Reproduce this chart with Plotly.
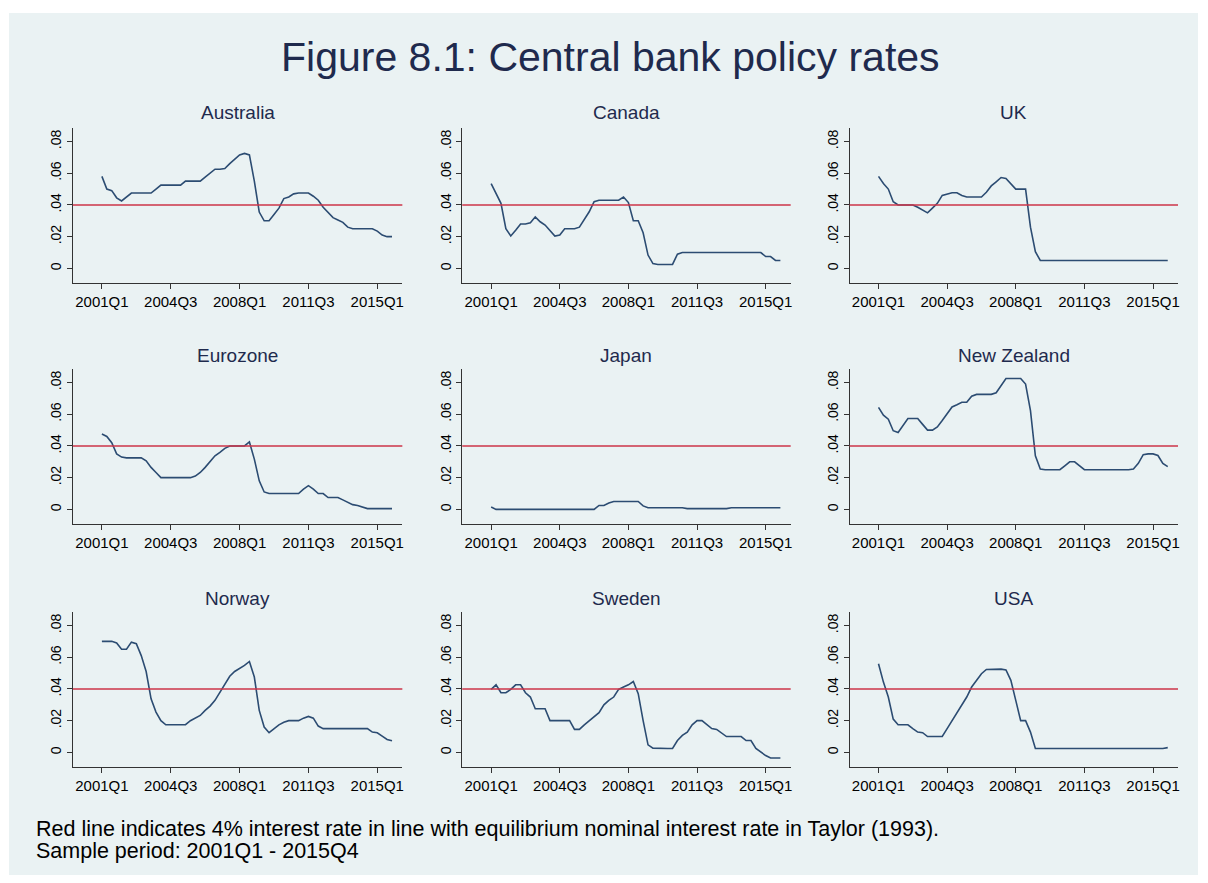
import plotly.graph_objects as go

# ---------------- data ----------------
years = list(range(2001, 2016))
quarters = [f"{y}Q{q}" for y in years for q in range(1, 5)]  # 2001Q1 .. 2015Q4 (60)

tick_labels = ["2001Q1", "2004Q3", "2008Q1", "2011Q3", "2015Q1"]
y_tick_vals = [0, 0.02, 0.04, 0.06, 0.08]
y_tick_text = ["0", ".02", ".04", ".06", ".08"]
equilibrium_rate = 0.04

countries = ["Australia", "Canada", "UK", "Eurozone", "Japan", "New Zealand",
             "Norway", "Sweden", "USA"]

australia = [.058, .050, .049, .0445, .0425, .045, .0475, .0475, .0475, .0475,
             .0475, .050, .0525, .0525, .0525, .0525, .0525, .055, .055, .055,
             .055, .0575, .060, .0625, .0625, .063, .066, .069, .0715, .0725,
             .0715, .055, .0355, .030, .030, .034, .038, .044, .045, .047,
             .0475, .0475, .0475, .0455, .043, .0385, .035, .032, .0305, .029,
             .026, .025, .025, .025, .025, .025, .0235, .021, .020, .020]

canada = [.0535, .0477, .041, .025, .0204, .024, .028, .028, .0288, .0325,
          .0294, .0273, .024, .0204, .021, .025, .025, .025, .026, .0305,
          .0357, .042, .043, .043, .043, .043, .043, .045, .0415, .030,
          .030, .0225, .0084, .003, .0025, .0025, .0025, .0025, .009, .010,
          .010, .010, .010, .010, .010, .010, .010, .010, .010, .010,
          .010, .010, .010, .010, .010, .010, .0075, .0075, .005, .005]

uk = [.058, .0535, .050, .042, .040, .040, .040, .040, .0385, .037,
      .035, .038, .041, .046, .047, .0477, .0477, .046, .045, .045,
      .045, .045, .048, .052, .0546, .0573, .0567, .0535, .050, .050,
      .050, .026, .0105, .005, .005, .005, .005, .005, .005, .005,
      .005, .005, .005, .005, .005, .005, .005, .005, .005, .005,
      .005, .005, .005, .005, .005, .005, .005, .005, .005, .005]

eurozone = [.0475, .046, .042, .035, .033, .0325, .0325, .0325, .0325, .0306,
            .0265, .0233, .020, .020, .020, .020, .020, .020, .020, .021,
            .0233, .0265, .030, .0338, .036, .0385, .040, .040, .040, .040,
            .0425, .0317, .018, .011, .010, .010, .010, .010, .010, .010,
            .010, .0128, .015, .0128, .010, .010, .0075, .0075, .0075, .006,
            .0045, .003, .0025, .0017, .0005, .0005, .0005, .0005, .0005, .0005]

japan = [.0015, 0, 0, 0, 0, 0, 0, 0, 0, 0,
         0, 0, 0, 0, 0, 0, 0, 0, 0, 0,
         0, 0, .0025, .0025, .004, .005, .005, .005, .005, .005,
         .005, .0022, .001, .001, .001, .001, .001, .001, .001, .001,
         .0005, .0005, .0005, .0005, .0005, .0005, .0005, .0005, .0005, .001,
         .001, .001, .001, .001, .001, .001, .001, .001, .001, .001]

new_zealand = [.0643, .0594, .0569, .0496, .0485, .053, .0573, .0573, .0573, .0536,
               .050, .050, .052, .056, .0604, .0646, .066, .0675, .0675, .0714,
               .0725, .0725, .0725, .0725, .0735, .0777, .0825, .0825, .0825, .0825,
               .079, .0622, .0338, .0254, .025, .025, .025, .025, .0275, .030,
               .030, .0275, .025, .025, .025, .025, .025, .025, .025, .025,
               .025, .025, .0255, .029, .0345, .035, .035, .034, .029, .027]

norway = [.070, .070, .070, .069, .065, .065, .0695, .0685, .061, .051,
          .0338, .0254, .020, .0174, .0175, .0175, .0175, .0175, .020, .0216,
          .0233, .0265, .0292, .0328, .038, .0433, .048, .051, .0527, .0548,
          .0573, .0475, .0265, .016, .0124, .015, .0174, .019, .020, .020,
          .020, .0216, .0227, .0216, .0166, .015, .015, .015, .015, .015,
          .015, .015, .015, .015, .015, .0128, .0124, .0103, .0082, .0074]

sweden = [.0397, .0426, .0376, .0376, .0397, .0426, .0426, .0376, .0349, .0275,
          .0275, .0275, .020, .020, .020, .020, .020, .0145, .0145, .0174,
          .020, .0227, .025, .030, .0328, .0349, .0397, .0412, .0426, .0447,
          .037, .020, .0048, .0027, .0025, .0025, .0025, .0025, .0075, .0107,
          .0128, .0174, .020, .020, .0174, .015, .0145, .0124, .010, .010,
          .010, .010, .0075, .0075, .0025, 0, -.002, -.0035, -.0035, -.0035]

usa = [.0559, .0443, .0349, .021, .0174, .0174, .0174, .015, .0128, .0124,
       .010, .010, .010, .010, .015, .020, .025, .030, .0349, .0412,
       .0454, .0496, .0523, .0525, .0525, .0525, .052, .0454, .0328, .020,
       .020, .0128, .0025, .0025, .0025, .0025, .0025, .0025, .0025, .0025,
       .0025, .0025, .0025, .0025, .0025, .0025, .0025, .0025, .0025, .0025,
       .0025, .0025, .0025, .0025, .0025, .0025, .0025, .0025, .0025, .003]

series = [australia, canada, uk, eurozone, japan, new_zealand, norway, sweden, usa]

footnotes = ["Red line indicates 4% interest rate in line with equilibrium nominal interest rate in Taylor (1993).",
             "Sample period: 2001Q1 - 2015Q4"]

# ---------------- layout geometry ----------------
OFF = 8            # page body margin of the html page
W, H = 1192, 867   # figure size that fits the 1208x883 window
col_px = [(73, 403), (463, 792), (851, 1180)]
row_px = [(128, 283), (369, 524), (612, 767)]
title_y_px = [113, 355, 598]
foot_y_px = [829, 851]


def px(v):
    return (v - OFF) / W


def py(v):
    return 1 - (v - OFF) / H


BG = "#EAF2F3"
LINE = "#2C4C72"
RED = "#CC3448"
TITLE = "#1F2A4D"
FONT = "Liberation Sans, Arial, Helvetica, sans-serif"

fig = go.Figure()

x_index = list(range(len(quarters)))
tick_pos = [quarters.index(t) for t in tick_labels]

shapes = [dict(type="rect", xref="paper", yref="paper",
               x0=px(9), x1=px(1200), y0=py(876), y1=py(13),
               fillcolor=BG, line=dict(width=0), layer="below")]
annotations = []

for i, (name, vals) in enumerate(zip(countries, series)):
    r, c = divmod(i, 3)
    k = i + 1
    xa = "x" if k == 1 else f"x{k}"
    ya = "y" if k == 1 else f"y{k}"
    fig.add_trace(go.Scatter(x=x_index, y=vals, mode="lines",
                             line=dict(color=LINE, width=1.6),
                             xaxis=xa, yaxis=ya, showlegend=False,
                             hovertext=quarters, name=name))
    x0, x1 = col_px[c]
    y0, y1 = row_px[r]
    xkey = "xaxis" if k == 1 else f"xaxis{k}"
    ykey = "yaxis" if k == 1 else f"yaxis{k}"
    fig.layout[xkey] = dict(
        domain=[px(x0), px(x1)], anchor=ya, range=[-5.9, 61.1],
        tickvals=tick_pos, ticktext=tick_labels, ticks="outside", ticklen=5,
        tickcolor="#333333", showline=True, linecolor="#333333", linewidth=1,
        showgrid=False, zeroline=False,
        tickfont=dict(family=FONT, size=15, color="black"))
    fig.layout[ykey] = dict(
        domain=[py(y1), py(y0)], anchor=xa, range=[-0.0092, 0.0885],
        tickvals=y_tick_vals, ticktext=y_tick_text, tickangle=-90,
        ticks="outside", ticklen=5, tickcolor="#333333",
        showline=True, linecolor="#333333", linewidth=1,
        showgrid=True, gridcolor=BG, gridwidth=1.2, zeroline=False,
        tickfont=dict(family=FONT, size=14, color="black"))
    shapes.append(dict(type="line", xref=f"{xa} domain", yref=ya,
                       x0=0, x1=1, y0=equilibrium_rate, y1=equilibrium_rate,
                       line=dict(color=RED, width=1.5)))
    annotations.append(dict(text=name, xref="paper", yref="paper",
                            x=px((x0 + x1) / 2), y=py(title_y_px[r]),
                            xanchor="center", yanchor="middle", showarrow=False,
                            font=dict(family=FONT, size=19, color=TITLE)))

annotations.append(dict(text="Figure 8.1: Central bank policy rates",
                        xref="paper", yref="paper", x=px(612), y=py(57),
                        xanchor="center", yanchor="middle", showarrow=False,
                        font=dict(family=FONT, size=41, color=TITLE)))
for txt, yy in zip(footnotes, foot_y_px):
    annotations.append(dict(
        text=txt, xref="paper", yref="paper", x=px(34), y=py(yy),
        xanchor="left", yanchor="middle", align="left", showarrow=False,
        font=dict(family=FONT, size=21.5, color="black")))

fig.update_layout(width=W, height=H, margin=dict(l=0, r=0, t=0, b=0),
                  paper_bgcolor="white", plot_bgcolor="white",
                  shapes=shapes, annotations=annotations,
                  font=dict(family=FONT))

fig.write_html("out.html")
